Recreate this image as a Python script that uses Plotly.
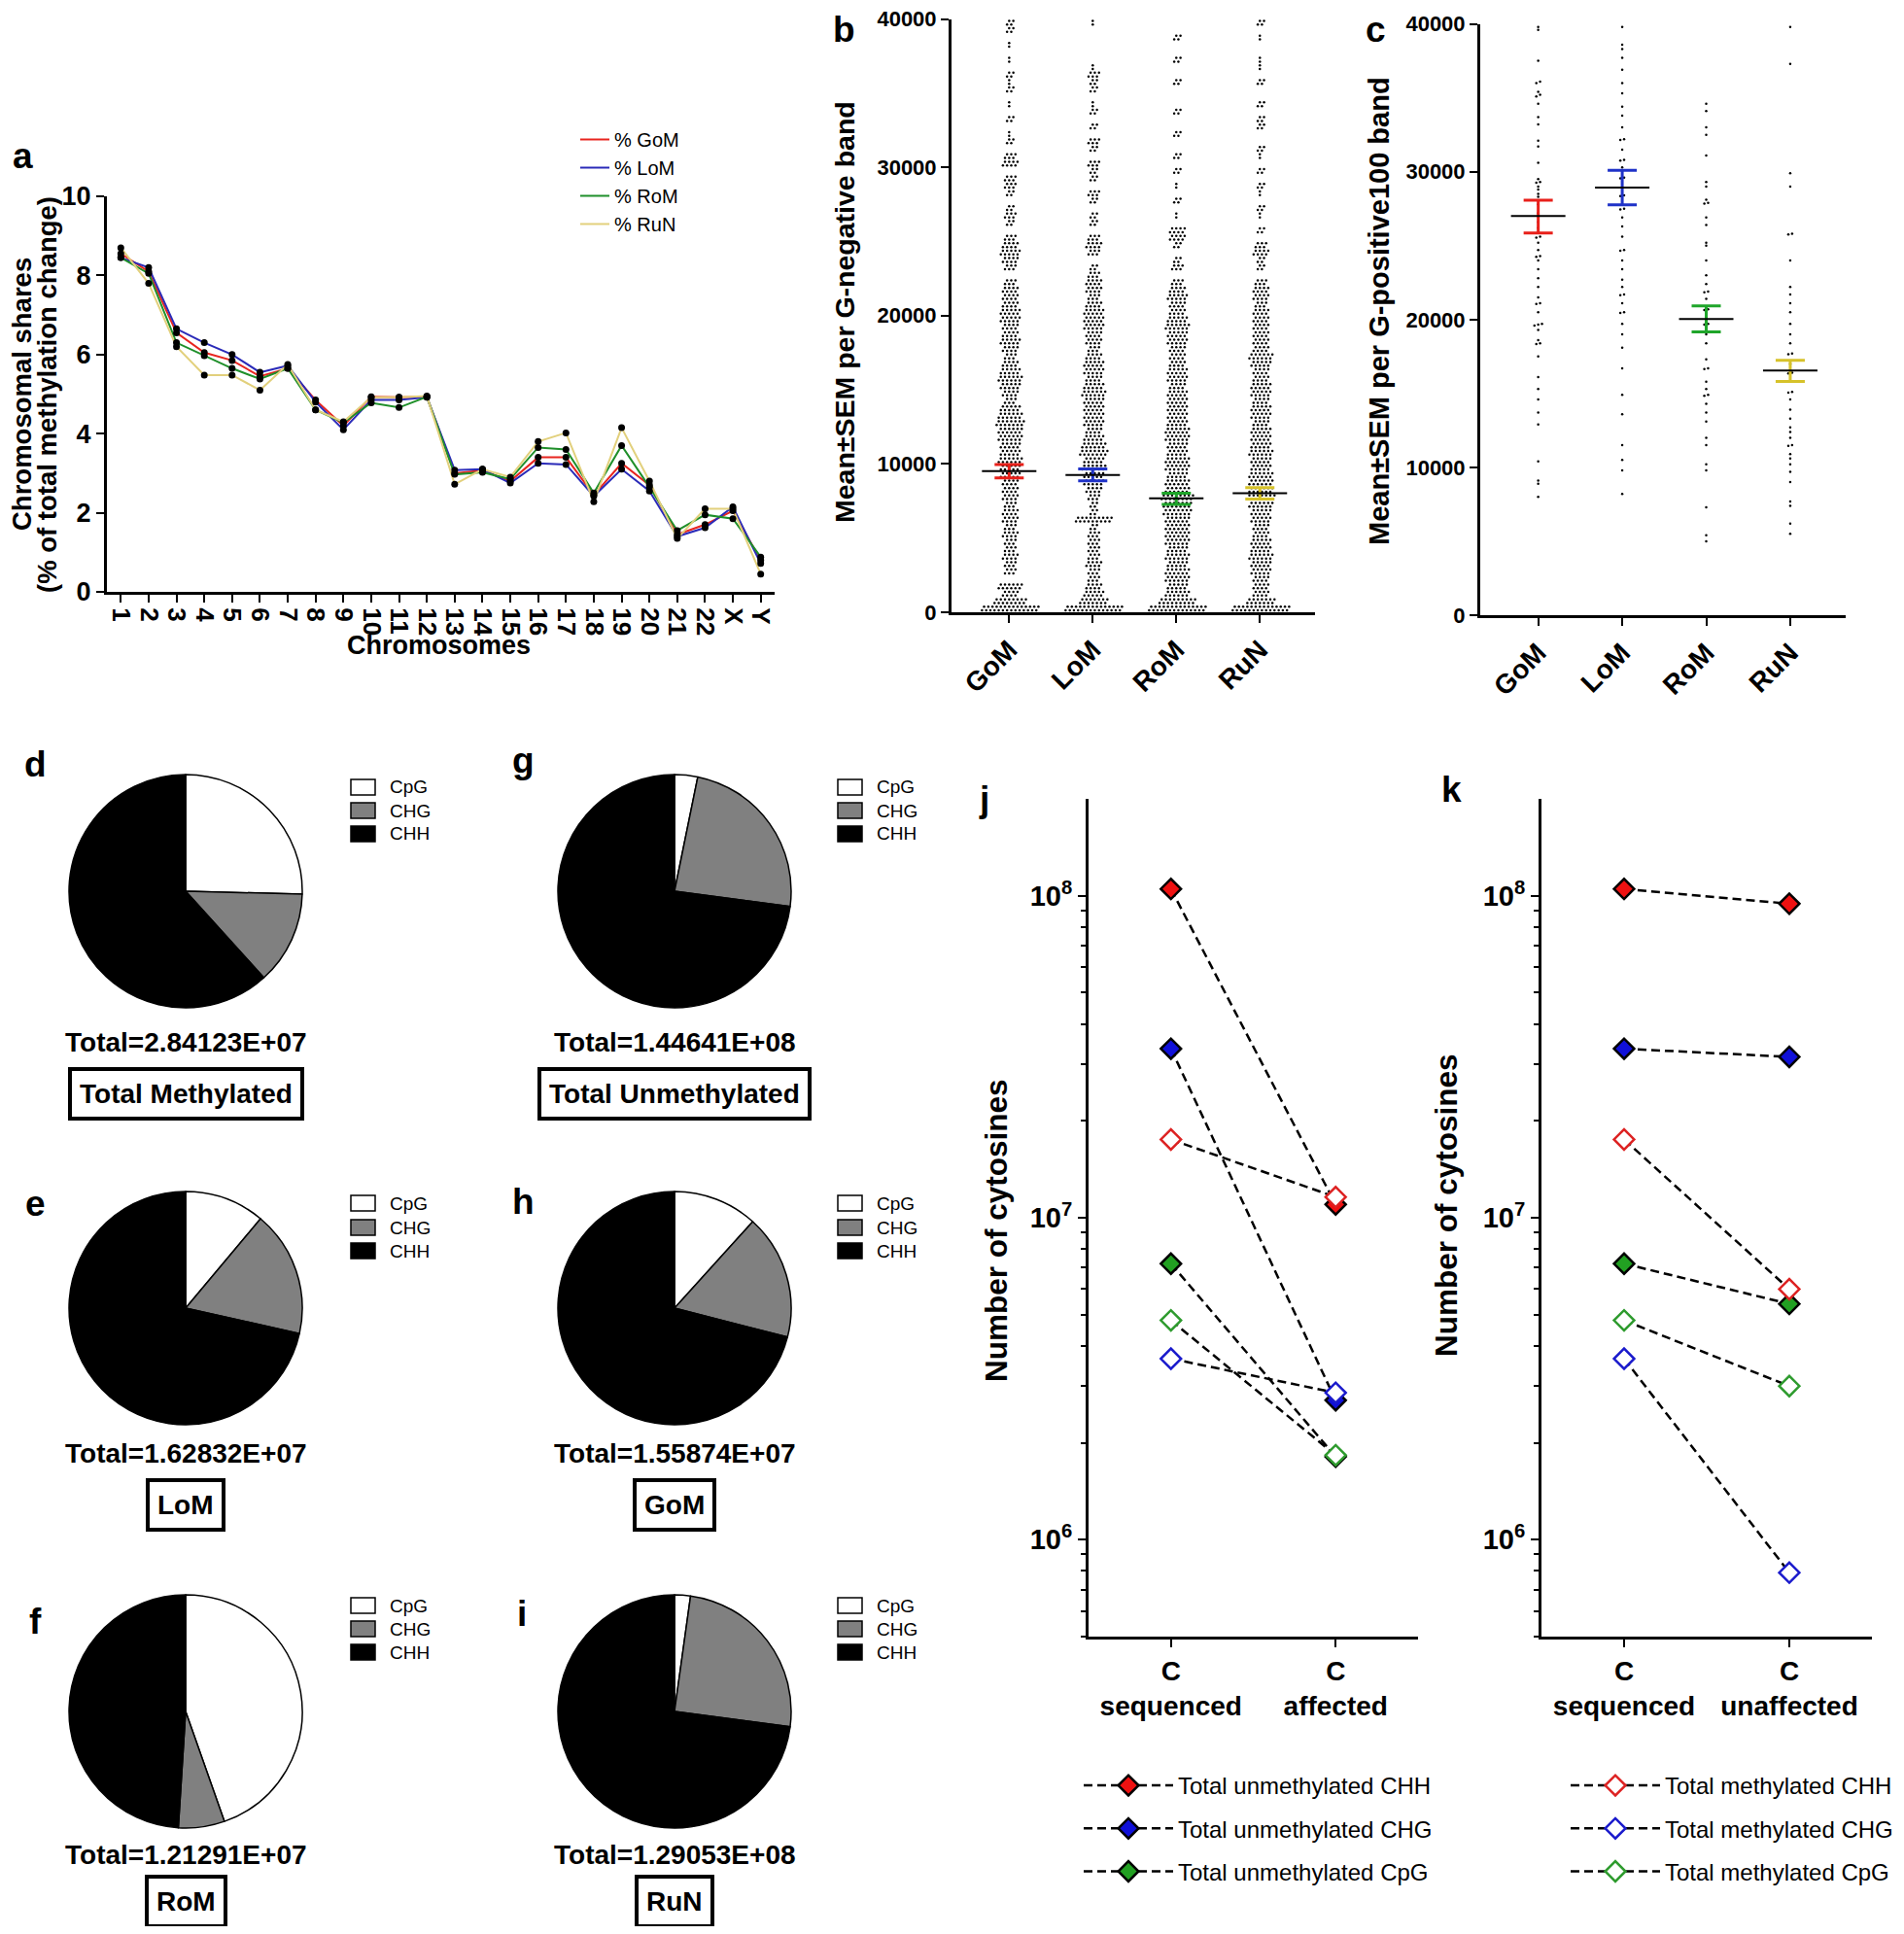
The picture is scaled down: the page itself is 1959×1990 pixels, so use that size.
import plotly.graph_objects as go

W, H = 1959, 1990
OFF = 8  # the page body keeps its default 8px margin round the figure
FW, FH = W - 2 * OFF, H - 2 * OFF
ARIAL = 'Liberation Sans, Arial, sans-serif'
NARROW = 'Liberation Sans Narrow, Arial Narrow, Liberation Sans, sans-serif'

# ---------------- panel a: chromosomal shares ----------------
chromosomes = ['1', '2', '3', '4', '5', '6', '7', '8', '9', '10', '11', '12',
               '13', '14', '15', '16', '17', '18', '19', '20', '21', '22', 'X', 'Y']
share_gom = [8.55, 8.1, 6.55, 6.05, 5.85, 5.45, 5.65, 4.85, 4.2, 4.93, 4.92, 4.93,
             3.0, 3.07, 2.8, 3.4, 3.4, 2.45, 3.25, 2.7, 1.45, 1.7, 2.05, 0.8]
share_lom = [8.45, 8.2, 6.65, 6.3, 6.0, 5.55, 5.72, 4.8, 4.1, 4.85, 4.85, 4.92,
             3.08, 3.1, 2.75, 3.25, 3.22, 2.42, 3.1, 2.55, 1.4, 1.62, 2.15, 0.72]
share_rom = [8.45, 8.05, 6.3, 5.97, 5.65, 5.38, 5.65, 4.6, 4.28, 4.78, 4.66, 4.93,
             2.97, 3.02, 2.85, 3.65, 3.6, 2.5, 3.7, 2.65, 1.55, 1.95, 1.85, 0.88]
share_run = [8.7, 7.8, 6.2, 5.48, 5.48, 5.1, 5.75, 4.6, 4.3, 4.92, 4.92, 4.95,
             2.72, 3.1, 2.9, 3.8, 4.02, 2.28, 4.15, 2.8, 1.35, 2.1, 2.1, 0.45]

# ---------------- panel b: G-negative bands (dots per row, 500-unit bands) ----------------
groups = ['GoM', 'LoM', 'RoM', 'RuN']
group_colors = ['#e8201a', '#1f32c8', '#1fa52a', '#d6c22a']
b_gom_rows = [14, 8, 4, 6, 0, 3, 3, 4, 3, 3, 4, 3, 4, 4, 3, 4, 4, 4, 5, 5,
              6, 5, 5, 6, 6, 7, 6, 5, 3, 4, 5, 6, 5, 4, 3, 4, 5, 4, 4, 5,
              5, 4, 4, 4, 3, 0, 3, 4, 5, 4, 3, 0, 2, 3, 2, 0, 2, 3, 3, 0,
              4, 3, 0, 2, 1, 0, 2, 0, 1, 0, 2, 1, 2, 0, 1, 0, 1, 0, 2, 2]
b_lom_rows = [14, 7, 5, 4, 3, 3, 4, 3, 3, 3, 3, 2, 9, 2, 2, 3, 4, 5, 5, 6,
              5, 7, 6, 5, 4, 5, 5, 5, 5, 6, 5, 4, 5, 5, 4, 3, 4, 4, 5, 5,
              5, 4, 3, 4, 4, 3, 2, 0, 3, 4, 3, 0, 2, 2, 0, 2, 3, 0, 2, 2,
              3, 0, 2, 3, 0, 2, 0, 2, 1, 0, 2, 2, 3, 1, 0, 0, 0, 0, 0, 1]
b_rom_rows = [14, 9, 6, 5, 6, 6, 5, 6, 5, 6, 6, 6, 6, 7, 7, 8, 6, 6, 5, 6,
              6, 5, 5, 6, 6, 5, 5, 5, 5, 5, 4, 5, 5, 4, 4, 4, 5, 5, 6, 5,
              4, 4, 5, 4, 3, 0, 3, 2, 0, 2, 4, 4, 0, 1, 0, 2, 0, 1, 0, 2,
              0, 2, 0, 0, 2, 0, 0, 2, 0, 0, 0, 2, 0, 0, 2, 0, 0, 2, 0, 0]
b_run_rows = [14, 7, 4, 4, 4, 5, 5, 6, 5, 5, 4, 4, 5, 5, 6, 7, 6, 6, 6, 5,
              5, 6, 5, 5, 5, 4, 5, 5, 4, 5, 5, 4, 4, 5, 6, 4, 4, 4, 4, 4,
              4, 3, 4, 4, 3, 0, 2, 2, 4, 3, 0, 2, 0, 1, 2, 0, 1, 2, 0, 2,
              0, 1, 2, 0, 0, 2, 2, 0, 2, 0, 0, 2, 0, 1, 1, 0, 0, 1, 0, 2]
b_mean = [9520, 9260, 7690, 8030]
b_sem_hi = [9960, 9670, 8030, 8410]
b_sem_lo = [9060, 8860, 7270, 7640]

# ---------------- panel c: G-positive100 bands ----------------
c_gom = [39800, 39600, 37500, 36100, 36000, 35400, 35200, 35100, 34600, 33700, 33200,
         32100, 31700, 30600, 29500, 29300, 29250, 29000, 28800, 28500, 28300, 27800,
         27200, 26600, 26200, 25600, 25550, 25200, 24700, 24300, 24250, 24000, 23400,
         22800, 22200, 21500, 21100, 21050, 20500, 19700, 19650, 19600, 19300, 18600,
         18400, 18350, 17500, 16100, 15300, 14600, 13700, 12900, 10400, 9100, 8900, 8000]
c_lom = [39800, 38600, 38300, 37700, 36900, 36000, 35300, 34400, 33800, 33000, 32200,
         32150, 31500, 30800, 30750, 30300, 29600, 29550, 28400, 28350, 27500, 27450,
         26900, 26300, 25600, 24700, 24650, 24000, 23400, 22700, 22200, 21700, 21650,
         21100, 20500, 20450, 19700, 19000, 18100, 16700, 14900, 13600, 11500, 10500, 9800, 8200]
c_rom = [34600, 34100, 33000, 32500, 31100, 29300, 29000, 28100, 27900, 27850, 26900,
         26400, 25200, 25000, 24000, 23000, 22400, 21900, 21850, 21400, 20700, 20650,
         20200, 19700, 19650, 19000, 18400, 17300, 16700, 16650, 15800, 15300, 14900,
         14850, 14300, 13700, 13100, 12000, 11500, 10200, 9800, 7300, 5400, 5000]
c_run = [39800, 37300, 29900, 29000, 25800, 25750, 24000, 22200, 21700, 21100, 20500,
         19700, 19000, 18400, 17700, 17650, 17000, 16400, 16350, 15800, 15100, 15050,
         14600, 13900, 13300, 12700, 12400, 12000, 11500, 11450, 10900, 10600, 10200,
         9700, 9000, 7700, 7400, 6200, 5500]
c_mean = [27000, 28930, 20040, 16550]
c_sem_hi = [28080, 30100, 20920, 17250]
c_sem_lo = [25850, 27760, 19160, 15820]

# ---------------- pies d-i (percent CpG, CHG, CHH) ----------------
contexts = ['CpG', 'CHG', 'CHH']
pie_total_methylated = [25.4, 12.9, 61.7]
pie_total_unmethylated = [3.2, 23.9, 72.9]
pie_lom = [11.1, 17.4, 71.5]
pie_gom = [11.7, 17.3, 71.0]
pie_rom = [44.6, 6.4, 49.0]
pie_run = [2.2, 24.9, 72.9]
pie_totals = ['Total=2.84123E+07', 'Total=1.44641E+08', 'Total=1.62832E+07',
              'Total=1.55874E+07', 'Total=1.21291E+07', 'Total=1.29053E+08']
pie_names = ['Total Methylated', 'Total Unmethylated', 'LoM', 'GoM', 'RoM', 'RuN']

# ---------------- panels j, k: number of cytosines ----------------
cyt_series = ['Total unmethylated CHH', 'Total unmethylated CHG', 'Total unmethylated CpG',
              'Total methylated CHH', 'Total methylated CHG', 'Total methylated CpG']
c_sequenced = [1.05e8, 3.35e7, 7.2e6, 1.75e7, 3.65e6, 4.8e6]
c_affected = [1.1e7, 2.71e6, 1.81e6, 1.16e7, 2.86e6, 1.83e6]
c_unaffected = [9.45e7, 3.16e7, 5.4e6, 6.0e6, 7.9e5, 3.0e6]


# page pixel -> paper fraction
def fx(x):
    return (x - OFF) / FW


def fy(y):
    return 1 - (y - OFF) / FH


def dom_x(a, b):
    return [fx(a), fx(b)]


def dom_y(top, bottom):
    return [fy(bottom), fy(top)]


def swarm_rows(center, rows, band=500, step=0.05):
    xs, ys = [], []
    for i, n in enumerate(rows):
        for k, off in enumerate((0.25, 0.75)):
            for j in range(n):
                xs.append(center + (j - (n - 1) / 2 + 0.5 * k * (n > 1)) * step)
                ys.append((i + off) * band)
    return xs, ys


def swarm_values(center, values, gap=200, step=0.045):
    rows = []
    for v in sorted(values):
        if rows and v - rows[-1][0] < gap:
            rows[-1].append(v)
        else:
            rows.append([v])
    xs, ys = [], []
    for row in rows:
        n = len(row)
        for j, v in enumerate(row):
            xs.append(center + (j - (n - 1) / 2) * step)
            ys.append(v)
    return xs, ys


fig = go.Figure()

# panel a
series_a = [('% GoM', share_gom, '#e8251f'), ('% LoM', share_lom, '#2a2ab8'),
            ('% RoM', share_rom, '#1f8f2a'), ('% RuN', share_run, '#e2d07c')]
xa = list(range(len(chromosomes)))
for name, vals, col in series_a:
    fig.add_trace(go.Scatter(x=xa, y=vals, mode='lines', name=name, line=dict(color=col, width=2),
                             xaxis='x', yaxis='y', legend='legend3'))
for name, vals, col in series_a:
    fig.add_trace(go.Scatter(x=xa, y=vals, mode='markers', marker=dict(color='black', size=7),
                             xaxis='x', yaxis='y', showlegend=False, hoverinfo='skip'))

# panels b and c
for axn, data, means, his, los, mode in (
        ('2', [b_gom_rows, b_lom_rows, b_rom_rows, b_run_rows], b_mean, b_sem_hi, b_sem_lo, 'rows'),
        ('3', [c_gom, c_lom, c_rom, c_run], c_mean, c_sem_hi, c_sem_lo, 'values')):
    for g, vals in enumerate(data):
        xs, ys = swarm_rows(g, vals) if mode == 'rows' else swarm_values(g, vals)
        fig.add_trace(go.Scatter(x=xs, y=ys, mode='markers', marker=dict(color='black', size=2.5),
                                 xaxis='x' + axn, yaxis='y' + axn, showlegend=False, hoverinfo='y'))
    for g in range(4):
        fig.add_trace(go.Scatter(
            x=[g], y=[means[g]], mode='markers',
            marker=dict(symbol='line-ew', size=40, line=dict(color='black', width=2)),
            error_y=dict(type='data', symmetric=False, array=[his[g] - means[g]],
                         arrayminus=[means[g] - los[g]], width=15, thickness=3, color=group_colors[g]),
            xaxis='x' + axn, yaxis='y' + axn, showlegend=False))

# pies
pie_vals = [pie_total_methylated, pie_total_unmethylated, pie_lom, pie_gom, pie_rom, pie_run]
pie_cx = [191, 694, 191, 694, 191, 694]
pie_cy = [917, 917, 1346, 1346, 1761, 1761]
R = 120
pie_fill = ['white', '#808080', 'black']
for vals, cx, cy in zip(pie_vals, pie_cx, pie_cy):
    fig.add_trace(go.Pie(values=vals, labels=contexts, sort=False, direction='clockwise', rotation=0,
                         domain=dict(x=dom_x(cx - R, cx + R), y=dom_y(cy - R, cy + R)),
                         marker=dict(colors=pie_fill, line=dict(color='black', width=1.5)),
                         textinfo='none', showlegend=False))

# panels j, k
cyt_fill = ['#ee1111', '#1010d8', '#22a022', 'white', 'white', 'white']
cyt_edge = ['black', 'black', 'black', '#dd2222', '#1a1acc', '#2e9b2e']
for axn, second, leg_on in (('4', c_affected, 'unmeth'), ('5', c_unaffected, 'meth')):
    for i, name in enumerate(cyt_series):
        is_meth = i >= 3
        show = (leg_on == 'meth') == is_meth
        fig.add_trace(go.Scatter(
            x=[0, 1], y=[c_sequenced[i], second[i]], mode='lines+markers', name=name,
            line=dict(color='black', width=2.5, dash='9px,5px'),
            marker=dict(symbol='diamond', size=16, color=cyt_fill[i], line=dict(color=cyt_edge[i], width=2.5)),
            xaxis='x' + axn, yaxis='y' + axn, showlegend=show, legendgroup=axn + name,
            legend='legend' if axn == '4' else 'legend2'))

axis_common = dict(showline=True, linecolor='black', linewidth=3, ticks='outside', tickwidth=2,
                   ticklen=8, tickcolor='black', showgrid=False, zeroline=False, automargin=False)
bold = dict(family=ARIAL, size=22, color='black', weight='bold')
minor_vals = [m * 10 ** e for e in (5, 6, 7) for m in range(2, 10) if 5e5 <= m * 10 ** e <= 2e8]

fig.update_layout(
    width=FW, height=FH, margin=dict(l=0, r=0, t=0, b=0, autoexpand=False),
    paper_bgcolor='white', plot_bgcolor='white',
    xaxis=dict(axis_common, domain=dom_x(110, 797), anchor='y', range=[-0.5, 23.5],
               tickvals=xa, ticktext=chromosomes, tickangle=90,
               tickfont=dict(family=NARROW, size=26, color='black', weight='bold')),
    yaxis=dict(axis_common, domain=dom_y(202, 609), anchor='x', range=[0, 10], dtick=2,
               tickfont=dict(family=NARROW, size=27, color='black', weight='bold')),
    xaxis2=dict(axis_common, domain=dom_x(979, 1353), anchor='y2', range=[-0.69, 3.66],
                tickvals=[0, 1, 2, 3], ticktext=groups, tickangle=-45, tickfont=dict(bold, size=28)),
    yaxis2=dict(axis_common, domain=dom_y(19.5, 630), anchor='x2', range=[0, 40000], dtick=10000,
                tickformat='d', tickfont=bold, ticklabeloverflow='allow'),
    xaxis3=dict(axis_common, domain=dom_x(1523, 1899), anchor='y3', range=[-0.69, 3.66],
                tickvals=[0, 1, 2, 3], ticktext=groups, tickangle=-45, tickfont=dict(bold, size=28)),
    yaxis3=dict(axis_common, domain=dom_y(24.6, 633), anchor='x3', range=[0, 40000], dtick=10000,
                tickformat='d', tickfont=bold, ticklabeloverflow='allow'),
    xaxis4=dict(axis_common, domain=dom_x(1120, 1459), anchor='y4', range=[-0.5, 1.5],
                tickvals=[0, 1], ticktext=['C<br>sequenced', 'C<br>affected'], tickfont=dict(bold, size=28)),
    yaxis4=dict(axis_common, domain=dom_y(822, 1684), anchor='x4', type='log',
                range=[5.699, 8.301], tickvals=[1e6, 1e7, 1e8],
                ticktext=['10<sup>6</sup>', '10<sup>7</sup>', '10<sup>8</sup>'], tickfont=dict(bold, size=29),
                minor=dict(tickmode='array', tickvals=minor_vals, ticks='outside', ticklen=5,
                           tickwidth=2, tickcolor='black')),
    xaxis5=dict(axis_common, domain=dom_x(1586, 1926), anchor='y5', range=[-0.5, 1.5],
                tickvals=[0, 1], ticktext=['C<br>sequenced', 'C<br>unaffected'], tickfont=dict(bold, size=28)),
    yaxis5=dict(axis_common, domain=dom_y(822, 1684), anchor='x5', type='log',
                range=[5.699, 8.301], tickvals=[1e6, 1e7, 1e8],
                ticktext=['10<sup>6</sup>', '10<sup>7</sup>', '10<sup>8</sup>'], tickfont=dict(bold, size=29),
                minor=dict(tickmode='array', tickvals=minor_vals, ticks='outside', ticklen=5,
                           tickwidth=2, tickcolor='black')),
    legend=dict(x=fx(1110), y=fy(1815), xanchor='left', yanchor='top', bgcolor='rgba(0,0,0,0)',
                font=dict(family=ARIAL, size=24, color='black'), itemwidth=92, tracegroupgap=10),
    legend2=dict(x=fx(1611), y=fy(1815), xanchor='left', yanchor='top', bgcolor='rgba(0,0,0,0)',
                 font=dict(family=ARIAL, size=24, color='black'), itemwidth=92, tracegroupgap=10),
    legend3=dict(x=fx(592), y=fy(124), xanchor='left', yanchor='top', bgcolor='rgba(0,0,0,0)',
                 font=dict(family=NARROW, size=20, color='black'), itemwidth=30, tracegroupgap=0),
)

ann = []


def text(x, y, s, size, weight='bold', family=ARIAL, angle=0, **kw):
    ann.append(dict(x=fx(x), y=fy(y), xref='paper', yref='paper', text=s, showarrow=False,
                    textangle=angle, xanchor=kw.pop('xanchor', 'center'), yanchor=kw.pop('yanchor', 'middle'),
                    font=dict(family=family, size=size, color='black', weight=weight), **kw))


# panel letters
for letter, x, y in (('a', 23, 160), ('d', 36, 786), ('g', 538, 782),
                     ('e', 36, 1238), ('h', 538, 1236), ('f', 36, 1668), ('i', 537, 1660),
                     ('j', 1012, 823), ('k', 1493, 812)):
    text(x, y, letter, 37)
text(868, OFF, 'b', 37, yanchor='top')
text(1415, OFF, 'c', 37, yanchor='top')

# axis titles
text(22, 406, 'Chromosomal shares', 27.5, angle=-90)
text(48, 406, '(% of total methylation change)', 27.5, angle=-90)
text(451, 664, 'Chromosomes', 27)
text(869, 321, 'Mean±SEM per G-negative band', 28.5, angle=-90)
text(1419, 320, 'Mean±SEM per G-positive100 band', 29, angle=-90)
text(1025, 1266, 'Number of cytosines', 31.5, angle=-90)
text(1488, 1240, 'Number of cytosines', 31.5, angle=-90)

# pie captions, boxed names and small legends
shapes = []
pie_box_y = [1125, 1125, 1548, 1548, 1956, 1956]
pie_total_y = [1072, 1072, 1495, 1495, 1908, 1908]
legend_rows = [(810, 834, 858), (810, 834, 858), (1238, 1263, 1287), (1238, 1263, 1287),
               (1652, 1676, 1700), (1652, 1676, 1700)]
for k in range(6):
    cx = pie_cx[k]
    text(cx, pie_total_y[k], pie_totals[k], 28)
    text(cx, pie_box_y[k], pie_names[k], 28, bordercolor='black', borderwidth=4, borderpad=8,
         bgcolor='white')
    sx = 361 if k % 2 == 0 else 862
    for lab, col, ry in zip(contexts, pie_fill, legend_rows[k]):
        shapes.append(dict(type='rect', xref='paper', yref='paper', x0=fx(sx), x1=fx(sx + 25),
                           y0=fy(ry + 8), y1=fy(ry - 8), fillcolor=col,
                           line=dict(color='black', width=1.5)))
        text(sx + 38, ry, lab, 19, weight='normal', xanchor='left')

fig.update_layout(annotations=ann, shapes=shapes)
fig.write_html('out.html')
